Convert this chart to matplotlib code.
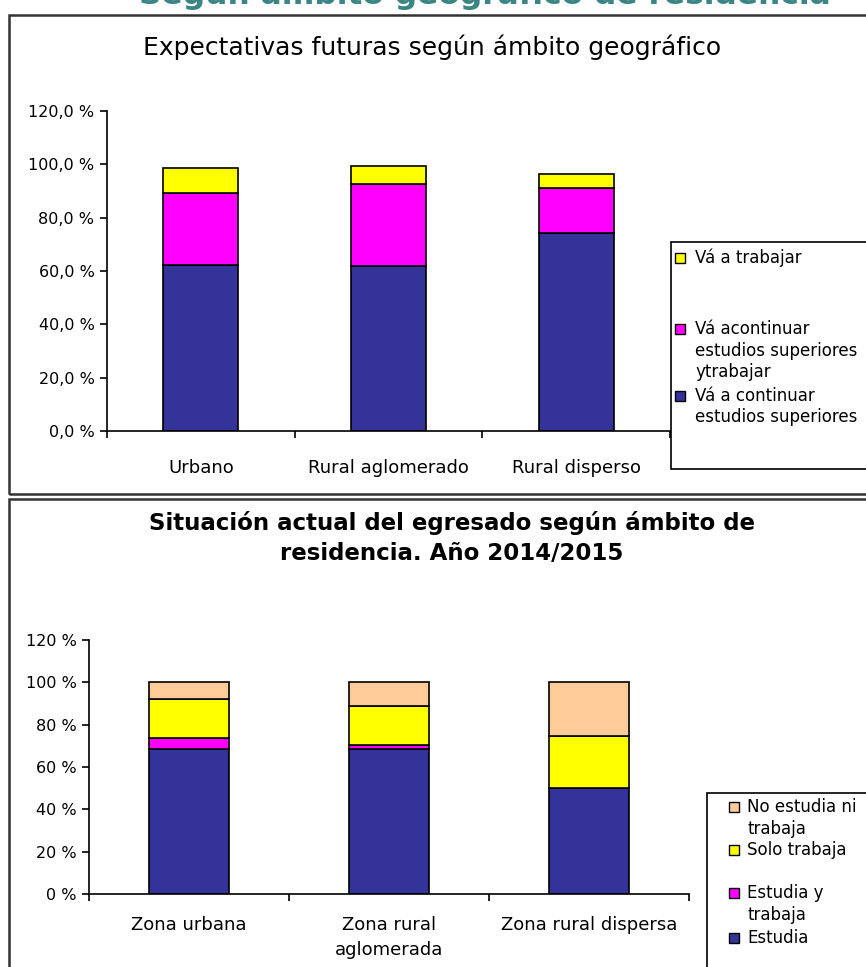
import matplotlib
matplotlib.use("Agg")
import matplotlib.pyplot as plt
from matplotlib.patches import Rectangle
import numpy as np

plt.rcParams['font.family'] = ['DejaVu Sans']

# ---------------- data ----------------
top_categories = ["Urbano", "Rural aglomerado", "Rural disperso"]
top_continuar = [62.3, 62.0, 74.1]
top_continuar_trabajar = [26.8, 30.6, 16.9]
top_trabajar = [9.4, 6.9, 5.3]
top_yticks = [0, 20, 40, 60, 80, 100, 120]

bot_categories = ["Zona urbana", "Zona rural\naglomerada", "Zona rural dispersa"]
bot_estudia = [68.4, 68.4, 50.3]
bot_estudia_trabaja = [5.5, 2.0, 0.0]
bot_solo_trabaja = [18.2, 18.4, 24.5]
bot_ninguno = [7.9, 11.2, 25.2]
bot_yticks = [0, 20, 40, 60, 80, 100, 120]

C_BLUE = "#333399"
C_MAG = "#FF00FF"
C_YEL = "#FFFF00"
C_PEACH = "#FFCC99"

W, H = 866, 967
fig = plt.figure(figsize=(W / 100, H / 100), dpi=100)
fig.patch.set_facecolor("white")


def fx(x):
    return x / W


def fy(y):
    return 1 - y / H


def axes_px(left, top, right, bottom):
    return fig.add_axes([fx(left), fy(bottom), (right - left) / W, (bottom - top) / H])


# cut-off heading at the very top (only its lower part is visible, as in the reference)
fig.text(fx(485), fy(4), "Según ámbito geográfico de residencia", ha="center", va="baseline",
         fontsize=22.5, fontweight="bold", color="#3C8585")

# frames
fig.patches.append(Rectangle((fx(9), fy(494)), (880 - 9) / W, (494 - 15) / H,
                             transform=fig.transFigure, fill=False, lw=1.8,
                             edgecolor="#333333", zorder=0))
fig.patches.append(Rectangle((fx(9), fy(1000)), (880 - 9) / W, (1000 - 499) / H,
                             transform=fig.transFigure, fill=False, lw=1.8,
                             edgecolor="#333333", zorder=0))


def style_axes(ax, ncat, yticks, fmt, xpad):
    ax.set_xlim(0, ncat)
    ax.set_ylim(0, 120)
    for s in ["top", "right"]:
        ax.spines[s].set_visible(False)
    for s in ["left", "bottom"]:
        ax.spines[s].set_linewidth(1.2)
    ax.set_yticks(yticks)
    ax.set_yticklabels([fmt(v) for v in yticks], fontsize=11.5)
    ax.tick_params(axis="y", length=5, width=1.2, pad=4)
    ax.set_xticks(np.arange(ncat) + 0.5)
    ax.set_xticks(np.arange(ncat + 1), minor=True)
    ax.tick_params(axis="x", which="major", length=0, pad=xpad, labelsize=13)
    ax.tick_params(axis="x", which="minor", length=5, width=1.2)
    ax.patch.set_alpha(0)


# ---------------- top chart ----------------
ax1 = axes_px(107, 111, 670, 431)
x1 = np.arange(len(top_categories)) + 0.5
bw = 0.4
b0 = np.zeros(len(top_categories))
for vals, col in [(top_continuar, C_BLUE), (top_continuar_trabajar, C_MAG), (top_trabajar, C_YEL)]:
    ax1.bar(x1, vals, bw, bottom=b0, color=col, edgecolor="black", linewidth=1.2)
    b0 = b0 + np.array(vals)
style_axes(ax1, len(top_categories), top_yticks, lambda v: f"{v:.1f}".replace(".", ",") + " %", 20)
ax1.set_xticklabels(top_categories)
fig.text(fx(432), fy(47), "Expectativas futuras según ámbito geográfico", ha="center", va="center",
         fontsize=18)

# top legend
fig.patches.append(Rectangle((fx(671), fy(469)), (880 - 671) / W, (469 - 242) / H,
                             transform=fig.transFigure, facecolor="white", lw=1.2,
                             edgecolor="black", zorder=2))
leg1 = [(258, C_YEL, ["Vá a trabajar"]),
        (329, C_MAG, ["Vá acontinuar", "estudios superiores", "ytrabajar"]),
        (396, C_BLUE, ["Vá a continuar", "estudios superiores"])]
for yy, col, lines in leg1:
    fig.patches.append(Rectangle((fx(675), fy(yy + 5)), 10 / W, 10 / H, transform=fig.transFigure,
                                 facecolor=col, edgecolor="black", lw=1.0, zorder=3))
    for i, t in enumerate(lines):
        fig.text(fx(695), fy(yy + i * 21.5), t, ha="left", va="center", fontsize=12, zorder=4)

# ---------------- bottom chart ----------------
ax2 = axes_px(89, 640, 689, 894)
x2 = np.arange(len(bot_categories)) + 0.5
b0 = np.zeros(len(bot_categories))
for vals, col in [(bot_estudia, C_BLUE), (bot_estudia_trabaja, C_MAG),
                  (bot_solo_trabaja, C_YEL), (bot_ninguno, C_PEACH)]:
    ax2.bar(x2, vals, bw, bottom=b0, color=col, edgecolor="black", linewidth=1.2)
    b0 = b0 + np.array(vals)
style_axes(ax2, len(bot_categories), bot_yticks, lambda v: f"{v:d} %", 16)
ax2.set_xticklabels(bot_categories, va="top", linespacing=1.45)
fig.text(fx(452), fy(538), "Situación actual del egresado según ámbito de\nresidencia. Año 2014/2015",
         ha="center", va="center", fontsize=16.5, fontweight="bold", linespacing=1.35)

# bottom legend
fig.patches.append(Rectangle((fx(707), fy(1000)), (880 - 707) / W, (1000 - 793) / H,
                             transform=fig.transFigure, facecolor="white", lw=1.2,
                             edgecolor="black", zorder=2))
leg2 = [(807, C_PEACH, ["No estudia ni", "trabaja"]),
        (850, C_YEL, ["Solo trabaja"]),
        (893, C_MAG, ["Estudia y", "trabaja"]),
        (938, C_BLUE, ["Estudia"])]
for yy, col, lines in leg2:
    fig.patches.append(Rectangle((fx(729), fy(yy + 5)), 10 / W, 10 / H, transform=fig.transFigure,
                                 facecolor=col, edgecolor="black", lw=1.0, zorder=3))
    for i, t in enumerate(lines):
        fig.text(fx(747), fy(yy + i * 22), t, ha="left", va="center", fontsize=12, zorder=4)

fig.savefig("out.png", dpi=100)
